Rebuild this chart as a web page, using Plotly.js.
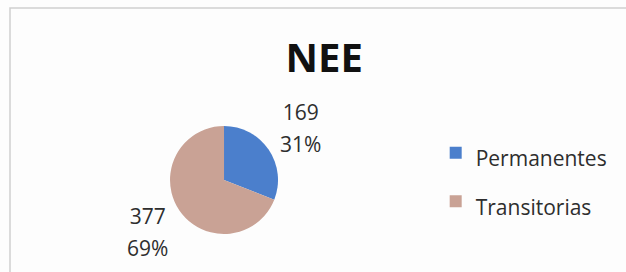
<!DOCTYPE html>
<html>
<head>
<meta charset="utf-8">
<script src="https://cdn.plot.ly/plotly-3.0.1.min.js"></script>
<style>html,body{margin:0;padding:0;background:#fff;}#chart{width:626px;height:272px;}</style>
</head>
<body>
<div id="chart"></div>
<script>
const chartTitle = 'NEE';
const categories = ['Permanentes', 'Transitorias'];
const values = [169, 377];
const colors = ['#4b7fcc', '#c9a295'];

const W = 626, H = 272;
const pieDomain = {x: [0.2716, 0.4441], y: [0.1397, 0.5368]};
const legendFontSize = 21;
const labelFontSize = 21;
const labelRadiusFactor = 1.72;

const trace = {
  type: 'pie',
  labels: categories.map(c => '<span style="font-size:' + legendFontSize + 'px">' + c + '</span>'),
  values: values,
  marker: {colors: colors},
  sort: false,
  direction: 'clockwise',
  rotation: 0,
  textinfo: 'none',
  domain: pieDomain,
  hoverinfo: 'none'
};

// data labels placed along each slice's mid angle, outside the pie
const total = values.reduce((a, b) => a + b, 0);
const cx = (pieDomain.x[0] + pieDomain.x[1]) / 2 * W;
const cy = (1 - (pieDomain.y[0] + pieDomain.y[1]) / 2) * H;
const r = (pieDomain.x[1] - pieDomain.x[0]) * W / 2;
let cum = 0;
const annotations = values.map((v, i) => {
  const mid = 2 * Math.PI * (cum + v / 2) / total;
  cum += v;
  const px = cx + labelRadiusFactor * r * Math.sin(mid);
  const py = cy - labelRadiusFactor * r * Math.cos(mid);
  const pct = Math.round(v / total * 100) + '%';
  const sp = '<span style="font-size:' + labelFontSize + 'px">';
  return {
    xref: 'paper', yref: 'paper', x: px / W, y: 1 - py / H,
    xanchor: 'center', yanchor: 'middle', showarrow: false,
    text: sp + v + '</span><br>' + sp + pct + '</span>',
    font: {family: 'Open Sans, sans-serif', size: 24.5, color: '#2e2e2e'}
  };
});

const layout = {
  width: W, height: H,
  margin: {l: 0, r: 0, t: 0, b: 0},
  paper_bgcolor: '#fdfdfd',
  font: {family: 'Open Sans, sans-serif', color: '#2e2e2e'},
  title: {
    text: '<b>' + chartTitle + '</b>',
    font: {family: 'Open Sans, sans-serif', size: 40, color: '#111'},
    x: 0.518, xanchor: 'center',
    y: 1 - 58 / H, yanchor: 'middle', yref: 'container'
  },
  showlegend: true,
  legend: {
    x: 0.696, xanchor: 'left',
    y: 0.349, yanchor: 'middle',
    font: {family: 'Open Sans, sans-serif', size: 35, color: '#2e2e2e'},
    bgcolor: 'rgba(0,0,0,0)'
  },
  annotations: annotations,
  shapes: [{
    type: 'rect', xref: 'paper', yref: 'paper',
    x0: 10 / W, x1: 1.05, y0: -0.05, y1: 1 - 8 / H,
    line: {color: '#cfcfcf', width: 1.5}, fillcolor: 'rgba(0,0,0,0)'
  }]
};

Plotly.newPlot('chart', [trace], layout, {staticPlot: true});
</script>
</body>
</html>
